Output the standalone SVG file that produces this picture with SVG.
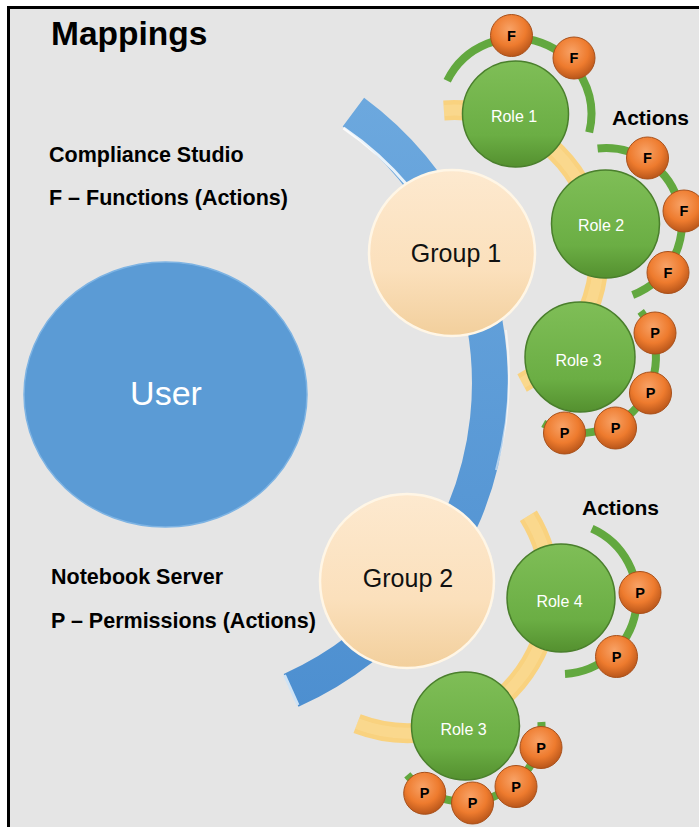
<svg xmlns="http://www.w3.org/2000/svg" width="699" height="827" viewBox="0 0 699 827">
<style>
text{font-family:"Liberation Sans",Arial,sans-serif}
.lbl{font-weight:bold;font-size:21.5px;fill:#000}
.title{font-weight:bold;font-size:33.5px;fill:#000}
.act{font-weight:bold;font-size:21px;fill:#000}
.grp{fill:url(#gGroup);stroke:#fff6e6;stroke-width:2.5}
.grpT{font-size:25px;fill:#111;text-anchor:middle}
.role{fill:url(#gRole);stroke:#4a7f2c;stroke-width:1.5}
.roleT{font-size:16px;fill:#fff;text-anchor:middle}
.ball{fill:url(#gBall);stroke:#a8501a;stroke-width:1}
.ballT{font-size:14.5px;font-weight:bold;fill:#000;text-anchor:middle}
.green{fill:none;stroke:#62a83f;stroke-width:8}
.yellow{fill:none;stroke:#f9d27f;stroke-width:20}
.yhl{fill:none;stroke:#fde4a8;stroke-width:11;stroke-opacity:0.35}
</style>
<defs>
<linearGradient id="gBlue" gradientUnits="userSpaceOnUse" x1="0" y1="100" x2="0" y2="710">
<stop offset="0" stop-color="#6ca8de"/><stop offset="1" stop-color="#4d8fd0"/>
</linearGradient>
<linearGradient id="gGroup" x1="0" y1="0" x2="0" y2="1">
<stop offset="0" stop-color="#fde9cf"/><stop offset="0.6" stop-color="#fbe0bc"/><stop offset="1" stop-color="#f2cf9c"/>
</linearGradient>
<linearGradient id="gRole" x1="0" y1="0" x2="0" y2="1">
<stop offset="0" stop-color="#7fbe57"/><stop offset="0.7" stop-color="#6bae44"/><stop offset="1" stop-color="#54902f"/>
</linearGradient>
<radialGradient id="gBall" cx="0.45" cy="0.35" r="0.65">
<stop offset="0" stop-color="#f8a266"/><stop offset="0.6" stop-color="#ee7b2e"/><stop offset="1" stop-color="#b9561a"/>
</radialGradient>
</defs>

<rect x="0" y="0" width="699" height="827" fill="#ffffff"/>
<rect x="8.5" y="7.5" width="700" height="830" fill="#e5e5e5" stroke="#000" stroke-width="3"/>

<g id="labels">
<text class="title" x="51" y="45">Mappings</text>
<text class="lbl" x="49" y="162">Compliance Studio</text>
<text class="lbl" x="49" y="205">F – Functions (Actions)</text>
<text class="lbl" x="51" y="584">Notebook Server</text>
<text class="lbl" x="51" y="628">P – Permissions (Actions)</text>
<text class="act" x="612" y="125">Actions</text>
<text class="act" x="582" y="515">Actions</text>
</g>

<g id="connectors">
<path d="M353.4,112.1 A337,337 0 0 1 291.1,690.4" fill="none" stroke="url(#gBlue)" stroke-width="36"/>
<path d="M343.5,128 A320,320 0 0 1 408,186" fill="none" stroke="#ffffff" stroke-width="3" stroke-opacity="0.85"/>
<path d="M506,330 A352,352 0 0 1 496,470" fill="none" stroke="#ffffff" stroke-width="2" stroke-opacity="0.55"/>
<path d="M298,705 L284.5,675" fill="none" stroke="#cfe3f5" stroke-width="3"/>
<path class="yellow" d="M443.9,110.4 A145,145 0 0 1 522.1,383"/>
<path class="yhl" d="M443.9,110.4 A145,145 0 0 1 522.1,383"/>
<path class="yellow" d="M528.4,515.8 A142,142 0 0 1 357.1,723.6"/>
<path class="yhl" d="M528.4,515.8 A142,142 0 0 1 357.1,723.6"/>
<path class="green" d="M447.2,80.7 A76,76 0 0 1 589.2,132.4"/>
<path class="green" d="M597.6,148.4 A76,76 0 0 1 632.7,295"/>
<path class="green" d="M640.7,311.3 A76,76 0 0 1 543.2,423.5"/>
<path class="green" d="M591.9,528.6 A76,76 0 0 1 565,673.9"/>
<path class="green" d="M541.4,722 A76,76 0 0 1 407.3,774.9"/>
</g>

<g id="user">
<ellipse cx="165.5" cy="394.5" rx="141.5" ry="132.5" fill="#5b9bd5" stroke="#7db3e3" stroke-width="1.5"/>
<text x="166" y="405" font-size="34" fill="#fff" text-anchor="middle">User</text>
</g>

<g id="group1">
<circle class="grp" cx="452" cy="253" r="83"/>
<text class="grpT" x="456" y="262">Group 1</text>
</g>
<g id="group2">
<circle class="grp" cx="407" cy="581" r="87"/>
<text class="grpT" x="408" y="587">Group 2</text>
</g>

<g id="role1">
<circle class="role" cx="515.5" cy="114" r="53"/>
<text class="roleT" x="514" y="122">Role 1</text>
</g>
<g id="role2">
<circle class="role" cx="605.5" cy="224" r="54"/>
<text class="roleT" x="601" y="231">Role 2</text>
</g>
<g id="role3a">
<circle class="role" cx="580" cy="357" r="55"/>
<text class="roleT" x="578.5" y="366">Role 3</text>
</g>
<g id="role4">
<circle class="role" cx="561" cy="598" r="54"/>
<text class="roleT" x="559.5" y="607">Role 4</text>
</g>
<g id="role3b">
<circle class="role" cx="465.5" cy="726" r="54"/>
<text class="roleT" x="463.5" y="735">Role 3</text>
</g>

<g id="r1f1"><circle class="ball" cx="511.5" cy="35.5" r="21"/><text class="ballT" x="511.5" y="40.5">F</text></g>
<g id="r1f2"><circle class="ball" cx="574" cy="58" r="21"/><text class="ballT" x="574" y="63">F</text></g>
<g id="r2f1"><circle class="ball" cx="647.5" cy="158" r="21"/><text class="ballT" x="647.5" y="163">F</text></g>
<g id="r2f2"><circle class="ball" cx="684" cy="211" r="21"/><text class="ballT" x="684" y="216">F</text></g>
<g id="r2f3"><circle class="ball" cx="668" cy="272.5" r="21"/><text class="ballT" x="668" y="277.5">F</text></g>
<g id="r3p1"><circle class="ball" cx="655" cy="333" r="21"/><text class="ballT" x="655" y="338">P</text></g>
<g id="r3p2"><circle class="ball" cx="650.5" cy="393" r="21"/><text class="ballT" x="650.5" y="398">P</text></g>
<g id="r3p3"><circle class="ball" cx="615.5" cy="428" r="21"/><text class="ballT" x="615.5" y="433">P</text></g>
<g id="r3p4"><circle class="ball" cx="564.5" cy="433" r="21"/><text class="ballT" x="564.5" y="438">P</text></g>
<g id="r4p1"><circle class="ball" cx="640" cy="592.5" r="21"/><text class="ballT" x="640" y="597.5">P</text></g>
<g id="r4p2"><circle class="ball" cx="616.5" cy="656.5" r="21"/><text class="ballT" x="616.5" y="661.5">P</text></g>
<g id="r3bp1"><circle class="ball" cx="541" cy="747.5" r="21"/><text class="ballT" x="541" y="752.5">P</text></g>
<g id="r3bp2"><circle class="ball" cx="516" cy="786.5" r="21"/><text class="ballT" x="516" y="791.5">P</text></g>
<g id="r3bp3"><circle class="ball" cx="472.5" cy="803" r="21"/><text class="ballT" x="472.5" y="808">P</text></g>
<g id="r3bp4"><circle class="ball" cx="424.7" cy="793.3" r="21"/><text class="ballT" x="424.7" y="798.3">P</text></g>
</svg>
